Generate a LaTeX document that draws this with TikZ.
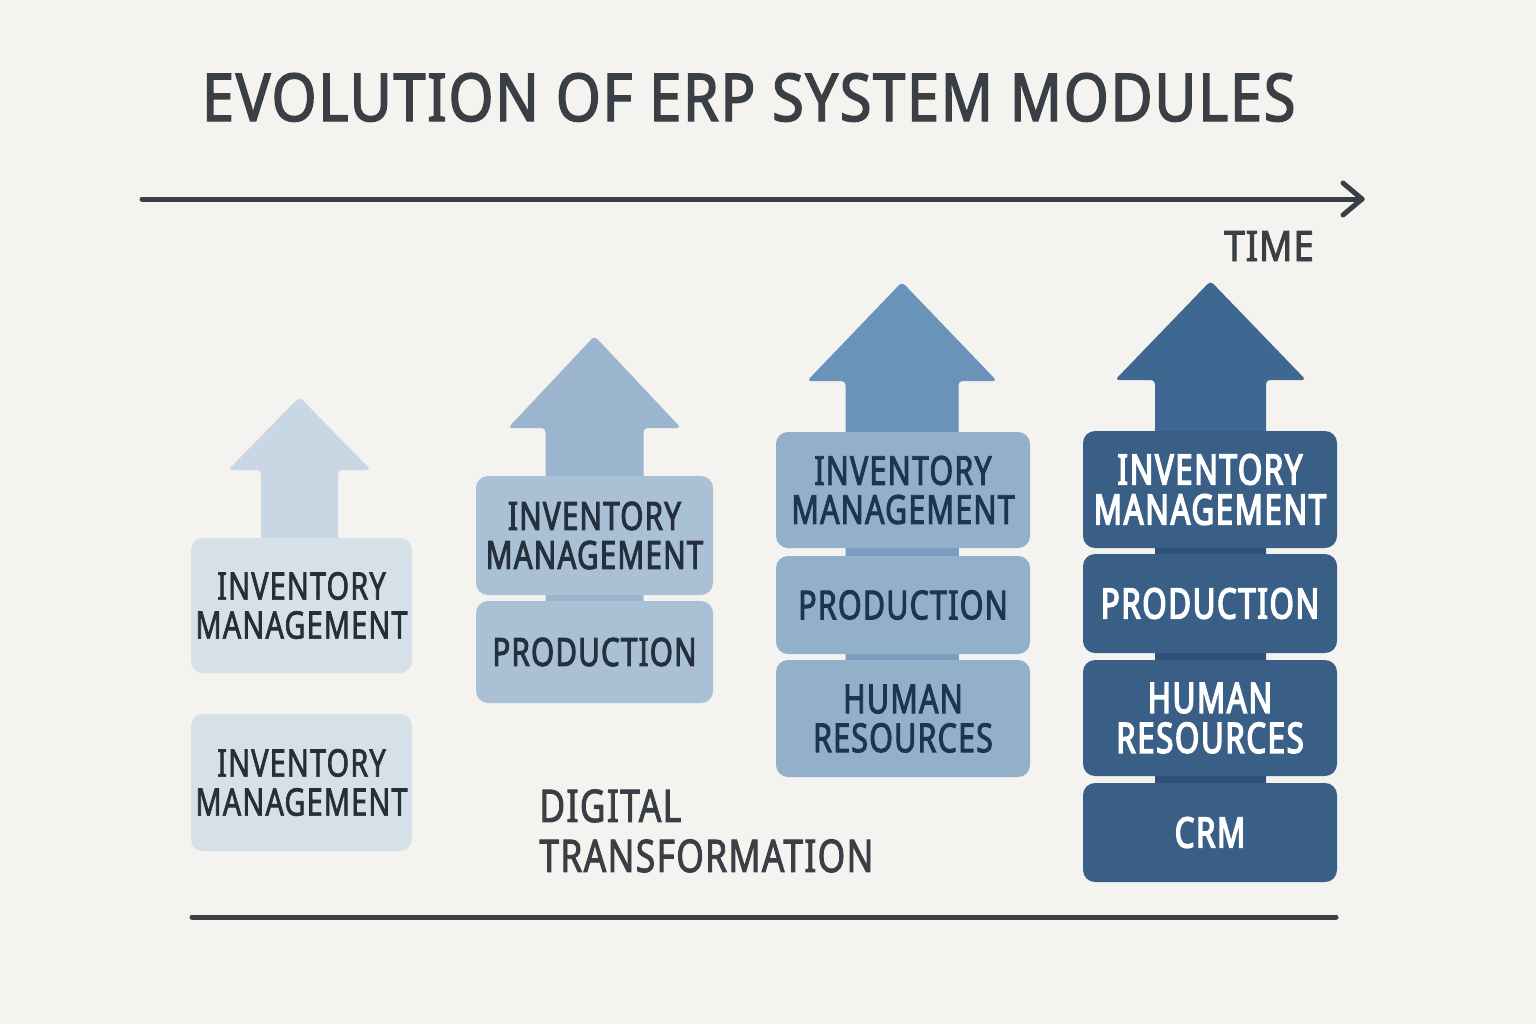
\documentclass[tikz,border=0pt]{standalone}
\usepackage{fontspec}
\setmainfont{Noto Sans}
\newfontfamily\titlefont[FakeStretch=0.875,FakeBold=2.2,LetterSpace=2.5]{Noto Sans}
\newfontfamily\lblfont[FakeStretch=0.785,FakeBold=2,LetterSpace=3]{Noto Sans}
\newfontfamily\lblfontT[FakeStretch=0.88,FakeBold=2.2,LetterSpace=2]{Noto Sans}
\newfontfamily\boxfontA[FakeStretch=0.76,FakeBold=1.8,LetterSpace=3]{Noto Sans}
\newfontfamily\boxfontB[FakeStretch=0.76,FakeBold=2.4,LetterSpace=3]{Noto Sans}
\newfontfamily\boxfontC[FakeStretch=0.74,FakeBold=3.4,LetterSpace=4]{Noto Sans}
\definecolor{bg}{HTML}{F4F3EF}
\definecolor{ink}{HTML}{3A3F45}
\definecolor{arA}{HTML}{C9D7E4}\definecolor{bxA}{HTML}{D6E0E9}\definecolor{txA}{HTML}{272E37}
\definecolor{arB}{HTML}{9AB5CD}\definecolor{bxB}{HTML}{AAC0D4}\definecolor{txB}{HTML}{24303D}
\definecolor{arC}{HTML}{6A93B9}\definecolor{bxC}{HTML}{93B0CB}\definecolor{txC}{HTML}{1E3550}
\definecolor{arD}{HTML}{3E6791}\definecolor{bxD}{HTML}{3A5F87}\definecolor{txD}{HTML}{FFFFFF}
\definecolor{gapD}{HTML}{2F5079}\definecolor{gapC}{HTML}{7A9DBF}
\tikzset{
  x=0.5pt,y=-0.5pt,
  mod/.style={rounded corners=6pt, align=center, inner sep=0pt},
  colA/.style={mod, fill=bxA, text=txA, minimum width=110.5pt, font=\boxfontA\fontsize{19}{19.5}\selectfont},
  colB/.style={mod, fill=bxB, text=txB, minimum width=118.5pt, font=\boxfontB\fontsize{19.5}{19.5}\selectfont},
  colC/.style={mod, fill=bxC, text=txC, minimum width=127pt, font=\boxfontB\fontsize{20}{19.5}\selectfont},
  colD/.style={mod, fill=bxD, text=txD, minimum width=127pt, font=\boxfontC\fontsize{21}{20}\selectfont},
  rule/.style={draw=ink, line width=2.5pt, line cap=round},
}
\newcommand{\bigarrow}[8]{% cx, tipy, headhw, basey, shafthw, bottomy, color, name
  \fill[#7, rounded corners=2pt] (#1,#2) -- (#1+#3,#4) -- (#1+#5,#4) -- (#1+#5,#6)
    -- (#1-#5,#6) -- (#1-#5,#4) -- (#1-#3,#4) -- cycle;
  \coordinate (#8) at (#1,#2);}
\begin{document}
\begin{tikzpicture}
\fill[bg] (0,0) rectangle (1536,1024);
\useasboundingbox (0,0) rectangle (1536,1024);

\node[text=ink, font=\titlefont\fontsize{33}{33}\selectfont, anchor=base west] (title) at (195,121) {EVOLUTION OF ERP SYSTEM MODULES};

% time axis
\coordinate (tstart) at (142,199);
\coordinate (tend) at (1362,199);
\draw[rule] (tstart) -- (tend);
\draw[rule, line join=round] ([shift={(-19,-16)}]tend) -- (tend) -- ([shift={(-19,16)}]tend);
\node[text=ink, font=\lblfontT\fontsize{21}{20}\selectfont, anchor=base east] (time) at (1321,261) {TIME};

% column 1
\bigarrow{299.5}{397}{71.5}{470}{38.5}{560}{arA}{tipA}
\node[colA, minimum height=67.5pt] (a1) at (301.5,605.5) {INVENTORY\\MANAGEMENT};
\node[colA, minimum height=68.5pt] (a2) at (301.5,782.5) {INVENTORY\\MANAGEMENT};

% column 2
\bigarrow{594.5}{336}{86.5}{428}{49}{620}{arB}{tipB}
\node[colB, minimum height=59.5pt] (b1) at (594.5,535.5) {INVENTORY\\MANAGEMENT};
\node[colB, minimum height=51pt] (b2) at (594.5,652) {PRODUCTION};

% column 3
\bigarrow{902}{282}{95}{381}{56.5}{700}{arC}{tipC}
\fill[gapC] (846,540) rectangle (959,670);
\node[colC, minimum height=58pt] (c1) at (903,490) {INVENTORY\\MANAGEMENT};
\node[colC, minimum height=49pt] (c2) at (903,605) {PRODUCTION};
\node[colC, minimum height=58.5pt] (c3) at (903,718.5) {HUMAN\\RESOURCES};

% column 4
\bigarrow{1210.5}{281}{95.5}{380}{55.5}{800}{arD}{tipD}
\fill[gapD] (1155,540) rectangle (1266,790);
\node[colD, minimum height=58.5pt] (d1) at (1210,489.5) {INVENTORY\\MANAGEMENT};
\node[colD, minimum height=49.5pt] (d2) at (1210,603.5) {PRODUCTION};
\node[colD, minimum height=58pt] (d3) at (1210,718) {HUMAN\\RESOURCES};
\node[colD, minimum height=49.5pt] (d4) at (1210,832.5) {CRM};

% digital transformation label
\node[text=ink, font=\lblfont\fontsize{22.5}{25}\selectfont, align=left, anchor=north west, inner sep=0pt] (dt) at (539,789) {DIGITAL\\TRANSFORMATION};

% bottom rule
\coordinate (bstart) at (192,917);
\coordinate (bend) at (1336,917);
\draw[rule] (bstart) -- (bend);
\end{tikzpicture}
\end{document}
